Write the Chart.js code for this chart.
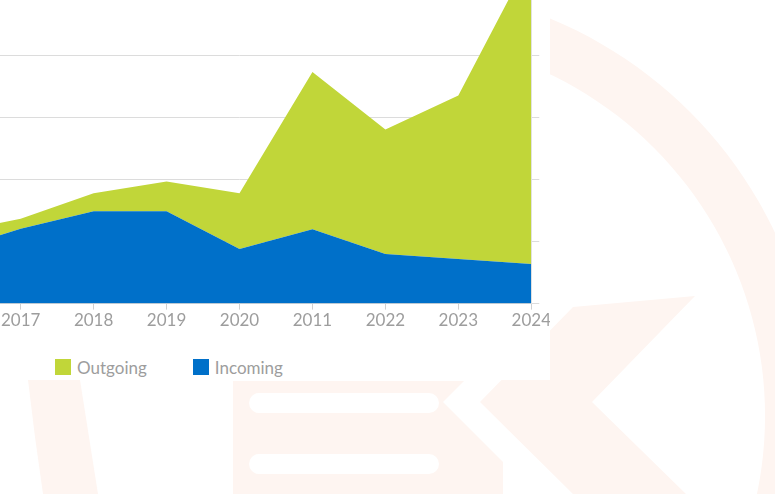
<!DOCTYPE html>
<html>
<head>
<meta charset="utf-8">
<script src="https://cdn.jsdelivr.net/npm/chart.js@4.4.1/dist/chart.umd.min.js"></script>
<style>
  html, body { margin:0; padding:0; background:#fff; width:775px; height:494px; overflow:hidden; position:relative; font-family:Lato, "Open Sans", sans-serif; }
  #wm { position:absolute; left:0; top:0; }
  #box { position:absolute; left:0; top:0; width:550px; height:380px; background:#fff; overflow:hidden; }
  #wrap { position:absolute; left:-73px; top:-68px; width:625px; height:400px; }
  #legend { position:absolute; left:55px; top:357px; display:flex; gap:46px; font-size:17px; color:#9d9d9d; }
  .item { display:flex; align-items:center; height:20px; }
  .sw { width:16px; height:16px; margin-right:6px; }
</style>
</head>
<body>
<svg id="wm" width="775" height="494" viewBox="0 0 775 494">
  <defs>
    <clipPath id="rc"><rect x="545" y="0" width="240" height="494"/></clipPath>
  </defs>
  <g fill="#fef5f1">
    <path clip-path="url(#rc)" fill-rule="evenodd" d="M 386 -14 A 430 430 0 1 1 385.9 -14 Z M 386 37 A 379 379 0 1 0 386.1 37 Z"/>
    <polygon points="28,380 80,380 89,437 98,494 43,494 35,437"/>
    <polygon points="233,381 464,381 443,402 503,462 503,494 233,494"/>
    <polygon points="480,402 573,307 695,296 592,402 686,494 573,494"/>
  </g>
  <g fill="#ffffff">
    <rect x="249" y="393" width="190" height="20" rx="10"/>
    <rect x="249" y="454" width="190" height="20" rx="10"/>
  </g>
</svg>
<div id="box">
  <div id="wrap"><canvas id="c"></canvas></div>
  <div id="legend"></div>
</div>
<script>
const years    = ['2016','2017','2018','2019','2020','2011','2022','2023','2024'];
const incoming = [84, 121, 149, 149, 88, 120, 80, 72, 64];
const outgoing = [29, 16, 29, 48, 90, 254, 201, 264, 497];
const seriesNames = ['Incoming', 'Outgoing'];
const seriesColors = ['#0070c9', '#c1d639'];

const chart = new Chart(document.getElementById('c'), {
  type: 'line',
  data: {
    labels: years,
    datasets: [
      { label: seriesNames[0], data: incoming, backgroundColor: seriesColors[0], borderColor: seriesColors[0], borderWidth: 0, pointRadius: 0, fill: 'origin', tension: 0 },
      { label: seriesNames[1], data: outgoing, backgroundColor: seriesColors[1], borderColor: seriesColors[1], borderWidth: 0, pointRadius: 0, fill: '-1', tension: 0 }
    ]
  },
  options: {
    responsive: true,
    maintainAspectRatio: false,
    animation: false,
    layout: { padding: 0 },
    plugins: { legend: { display: false }, tooltip: { enabled: false } },
    scales: {
      x: {
        type: 'category',
        offset: false,
        grid: { drawOnChartArea: false, drawTicks: true, tickLength: 6, color: '#d0d0d0' },
        border: { display: true, color: '#d6d6d6' },
        ticks: { color: '#9d9d9d', font: { family: 'Lato', size: 17 }, padding: 1, maxRotation: 0, autoSkip: false }
      },
      y: {
        position: 'right',
        stacked: true,
        min: 0, max: 600,
        grid: { color: '#dcdcdc', drawTicks: true, tickLength: 8 },
        border: { display: true, color: '#e2e2e2' },
        ticks: { display: false, stepSize: 100 }
      }
    }
  }
});

// HTML legend built from the datasets (Outgoing listed first)
const lg = document.getElementById('legend');
chart.data.datasets.slice().reverse().forEach(ds => {
  const it = document.createElement('div'); it.className = 'item';
  const sw = document.createElement('div'); sw.className = 'sw'; sw.style.background = ds.backgroundColor;
  const tx = document.createElement('span'); tx.textContent = ds.label;
  it.appendChild(sw); it.appendChild(tx); lg.appendChild(it);
});
</script>
</body>
</html>
